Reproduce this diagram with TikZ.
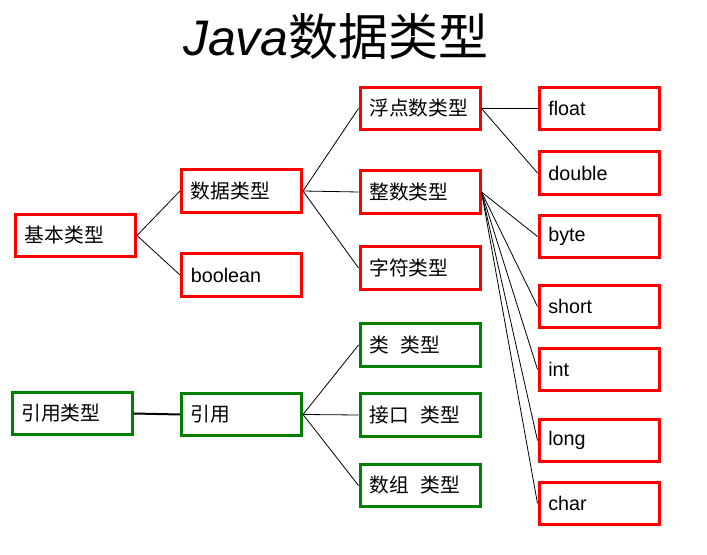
\documentclass[tikz,border=0pt]{standalone}
\usepackage{fontspec}
\setmainfont{Liberation Sans}
\newfontfamily\cjk{Noto Sans CJK SC}
\definecolor{refgreen}{RGB}{0,128,0}

\begin{document}
\begin{tikzpicture}[x=0.75pt, y=-0.75pt,
TypeBox/.style={draw=red, line width=2.25pt, minimum width=90pt, minimum height=32pt, text width=76pt, align=left, inner xsep=7pt, font=\fontsize{14.8}{16}\selectfont},
RefBox/.style={TypeBox, draw=refgreen},
Link/.style={line width=0.6pt}]

\useasboundingbox (0,0) rectangle (707,555);

\node (title) at (336,37) {\fontsize{37.5}{42}\selectfont\itshape Java{\cjk\upshape 数据类型}};

% primitive types
\node[TypeBox] (basic) at (75.5,235.5) {\cjk 基本类型};
\node[TypeBox] (data) at (241.5,191) {\cjk 数据类型};
\node[TypeBox] (bool) at (241.5,275) {boolean};

\node[TypeBox] (floating) at (420,108.5) {\cjk 浮点数类型};
\node[TypeBox] (integer) at (420,192) {\cjk 整数类型};
\node[TypeBox] (character) at (420,268) {\cjk 字符类型};

\node[TypeBox] (float) at (599,108.5) {float};
\node[TypeBox] (double) at (599,173) {double};
\node[TypeBox] (byte) at (599,236.5) {byte};
\node[TypeBox] (short) at (599,306.5) {short};
\node[TypeBox] (int) at (599,369.5) {int};
\node[TypeBox] (long) at (599,440.5) {long};
\node[TypeBox] (char) at (599,503.5) {char};

% reference types
\node[RefBox] (reftype) at (72,413.5) {\cjk 引用类型};
\node[RefBox] (ref) at (241.5,414.5) {\cjk 引用};
\node[RefBox] (class) at (420,345) {\cjk 类\hspace{0.6em}类型};
\node[RefBox] (iface) at (420,415) {\cjk 接口\hspace{0.6em}类型};
\node[RefBox] (array) at (420,485.5) {\cjk 数组\hspace{0.6em}类型};

\draw[Link] (basic.east) -- (data.west);
\draw[Link] (basic.east) -- (bool.west);
\draw[Link] (data.east) -- (floating.west);
\draw[Link] (data.east) -- (integer.west);
\draw[Link] (data.east) -- (character.west);
\draw[Link] (floating.east) -- (float.west);
\draw[Link] (floating.east) -- (double.west);
\foreach \t in {byte,short,int,long,char}
  \draw[Link] (integer.east) -- (\t.west);

\draw[line width=1.5pt] (reftype.east) -- (ref.west);
\draw[Link] (ref.east) -- (class.west);
\draw[Link] (ref.east) -- (iface.west);
\draw[Link] (ref.east) -- (array.west);

\end{tikzpicture}
\end{document}
